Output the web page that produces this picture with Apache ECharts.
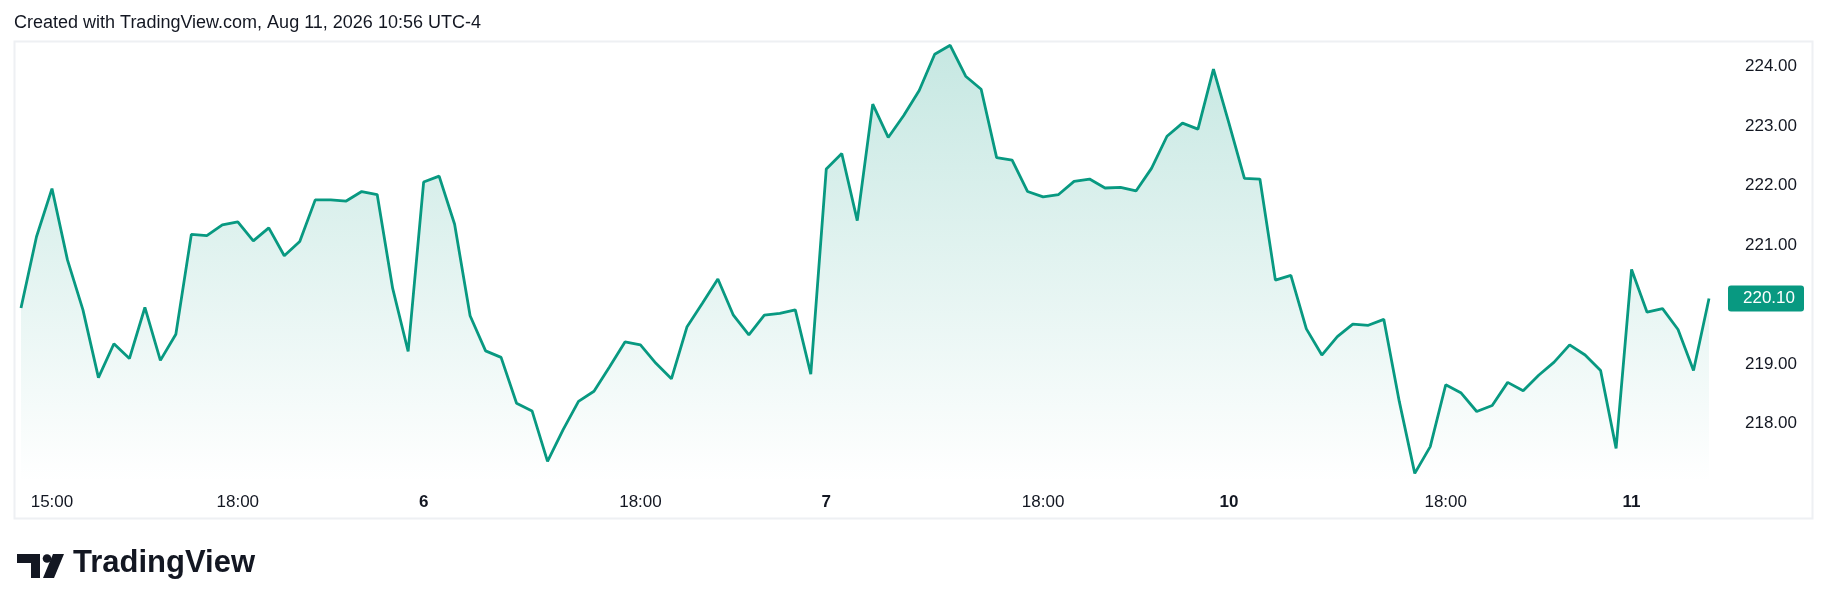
<!DOCTYPE html>
<html>
<head>
<meta charset="utf-8">
<script src="https://cdn.jsdelivr.net/npm/echarts@6/dist/echarts.min.js"></script>
<style>
html,body{margin:0;padding:0;background:#fff;}
#chart{width:1830px;height:611px;}
</style>
</head>
<body>
<div id="chart"></div>
<script>
// Trading days and 15-minute session bar times (chart time zone)
const days = ['5', '6', '7', '10', '11'];
const sessionTimes = ['14:30','14:45','15:00','15:15','15:30','15:45','16:00','16:15','16:30','16:45',
  '17:00','17:15','17:30','17:45','18:00','18:15','18:30','18:45','19:00','19:15',
  '19:30','19:45','20:00','20:15','20:30','20:45'];

// Close prices, one per 15-minute bar
const prices = [
  219.94, 221.14, 221.95, 220.75, 219.91, 218.77, 219.34, 219.09, 219.95, 219.06,
  219.50, 221.18, 221.16, 221.34, 221.39, 221.07, 221.29, 220.82, 221.06, 221.76,
  221.76, 221.74, 221.90, 221.85, 220.27, 219.21, 222.06, 222.16, 221.35, 219.81,
  219.22, 219.11, 218.34, 218.21, 217.36, 217.89, 218.37, 218.54, 218.95, 219.37,
  219.32, 219.01, 218.75, 219.62, 220.02, 220.43, 219.82, 219.49, 219.82, 219.85,
  219.91, 218.83, 222.28, 222.54, 221.41, 223.37, 222.81, 223.18, 223.60, 224.21,
  224.36, 223.84, 223.62, 222.47, 222.43, 221.90, 221.81, 221.85, 222.07, 222.11,
  221.96, 221.97, 221.91, 222.29, 222.83, 223.05, 222.95, 223.96, 223.05, 222.12,
  222.11, 220.41, 220.49, 219.59, 219.15, 219.46, 219.67, 219.65, 219.75, 218.37,
  217.16, 217.61, 218.65, 218.51, 218.20, 218.30, 218.69, 218.55, 218.81, 219.03,
  219.32, 219.15, 218.89, 217.58, 220.59, 219.87, 219.93, 219.58, 218.89, 220.10
];

// Time-axis tick labels (category -> shown text); day starts are shown bold
const xTickCategories = ['5 15:00', '5 18:00', '6 14:30', '6 18:00', '7 14:30', '7 18:00', '10 14:30', '10 18:00', '11 14:30'];
const xTickTexts = ['15:00', '18:00', '6', '18:00', '7', '18:00', '10', '18:00', '11'];
const xTickIsDay = [false, false, true, false, true, false, true, false, true];

// Price-axis tick labels
const yTickValues = [218, 219, 221, 222, 223, 224];

const headerText = 'Created with TradingView.com, Aug 11, 2026 10:56 UTC-4';

// build categories
const categories = [];
outer: for (const d of days) {
  for (const t of sessionTimes) {
    if (categories.length >= prices.length) break outer;
    categories.push(d + ' ' + t);
  }
}

const GREEN = '#089981';
const TEXT = '#131722';
const FONT = '"Liberation Sans", Arial, sans-serif';

const chart = echarts.init(document.getElementById('chart'), null, {renderer: 'canvas'});

const option = {
  animation: false,
  backgroundColor: '#ffffff',
  grid: {left: 21, right: 121, top: 7.25, bottom: 128.15, containLabel: false},
  xAxis: {
    type: 'category',
    data: categories,
    boundaryGap: false,
    axisLine: {show: false},
    axisTick: {show: false},
    splitLine: {show: false},
    axisLabel: {
      interval: function (idx, val) { return xTickCategories.indexOf(val) >= 0; },
      formatter: function (val) {
        const k = xTickCategories.indexOf(val);
        if (k < 0) return '';
        return xTickIsDay[k] ? '{b|' + xTickTexts[k] + '}' : '{n|' + xTickTexts[k] + '}';
      },
      margin: 11,
      color: TEXT,
      fontFamily: FONT,
      fontSize: 17,
      rich: {
        b: {fontWeight: 'bold', fontSize: 17, fontFamily: FONT, color: TEXT},
        n: {fontWeight: 'normal', fontSize: 17, fontFamily: FONT, color: TEXT}
      }
    }
  },
  yAxis: {
    type: 'value',
    position: 'right',
    min: 217,
    max: 225,
    interval: 1,
    axisLine: {show: false},
    axisTick: {show: false},
    splitLine: {show: false},
    axisLabel: {
      margin: 88,
      align: 'right',
      color: TEXT,
      fontFamily: FONT,
      fontSize: 17,
      formatter: function (v) {
        return yTickValues.indexOf(Math.round(v * 100) / 100) >= 0 ? v.toFixed(2) : '';
      }
    }
  },
  series: [{
    type: 'line',
    data: prices,
    symbol: 'none',
    lineStyle: {color: GREEN, width: 2.8},
    itemStyle: {color: GREEN},
    areaStyle: {
      color: new echarts.graphic.LinearGradient(0, 0, 0, 1, [
        {offset: 0, color: 'rgba(8,153,129,0.33)'},
        {offset: 1, color: 'rgba(8,153,129,0.0)'}
      ])
    },
    markLine: {
      silent: true,
      symbol: ['none', 'none'],
      lineStyle: {width: 1, color: 'rgba(0,0,0,0)', type: 'solid'},
      data: [{yAxis: prices[prices.length - 1]}],
      label: {
        show: true,
        position: 'end',
        distance: 19,
        formatter: function (p) { return Number(p.value).toFixed(2); },
        backgroundColor: GREEN,
        color: '#ffffff',
        fontFamily: FONT,
        fontSize: 17,
        lineHeight: 17,
        padding: [5, 9, 4, 15],
        borderRadius: 3
      }
    }
  }],
  graphic: [
    {type: 'rect', silent: true, z: -1,
      shape: {x: 14.5, y: 41.5, width: 1798, height: 477},
      style: {fill: 'none', stroke: '#eef0f3', lineWidth: 2}},
    {type: 'text', left: 14, top: 14,
      style: {text: headerText, fill: TEXT, font: '18px ' + FONT}},
    // TradingView logo mark
    {type: 'polygon', shape: {points: [[17, 554], [40, 554], [40, 578], [31, 578], [31, 563], [17, 563]]}, style: {fill: TEXT}},
    {type: 'circle', shape: {cx: 47, cy: 558.5, r: 4.3}, style: {fill: TEXT}},
    {type: 'polygon', shape: {points: [[53, 554], [64, 554], [54, 578], [43, 578]]}, style: {fill: TEXT}},
    {type: 'text', left: 73, top: 548,
      style: {text: 'TradingView', fill: TEXT, font: 'bold 31px ' + FONT}}
  ]
};

chart.setOption(option);
</script>
</body>
</html>
